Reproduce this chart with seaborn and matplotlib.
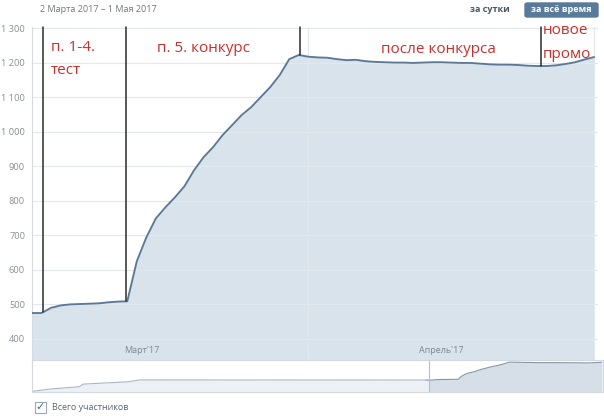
import numpy as np
import pandas as pd
import seaborn as sns
import matplotlib.pyplot as plt
import matplotlib.dates as mdates
from matplotlib.patches import Rectangle, FancyBboxPatch
from matplotlib.ticker import FuncFormatter

sns.set_style("white")
plt.rcParams["font.family"] = ["Open Sans", "DejaVu Sans"]

start = pd.Timestamp("2017-03-03")

# daily total members, 3 Mar - 1 May 2017
members = [475, 475, 490, 497, 500, 501, 502, 503, 506, 508,
           509, 625, 694, 749, 781, 810, 842, 888, 926, 955,
           990, 1019, 1048, 1071, 1100, 1129, 1164, 1210, 1222, 1217,
           1215, 1214, 1210, 1207, 1208, 1204, 1202, 1201, 1200, 1200,
           1199, 1200, 1201, 1201, 1200, 1199, 1199, 1197, 1195, 1194,
           1194, 1193, 1191, 1190, 1190, 1192, 1196, 1201, 1209, 1216]

# older history shown only in the navigator (days before 3 Mar)
hist_days = [-135.3, -129.2, -119.3, -118.0, -102.7, -98.8, -1.0]
hist_values = [10, 106, 201, 309, 405, 482, 478]

# hand-drawn markers (days after 3 Mar)
mark_days = [1.15, 9.86, 28.1, 53.4]

month_names = ["Март'17", "Апрель'17"]
month_label_days = [11.5, 43.0]
month_edges = ["2017-04-01", "2017-05-01"]

yticks = [400, 500, 600, 700, 800, 900, 1000, 1100, 1200, 1300]

line_c = "#5b7994"
fill_c = "#d9e3eb"
grid_c = "#e3e8ed"
red = "#c9302c"
tick_c = "#8a8f96"

day_idx = np.arange(len(members))
main = pd.DataFrame({"date": start + pd.to_timedelta(day_idx, unit="D"), "members": members})
hist = pd.DataFrame({"date": start + pd.to_timedelta(hist_days, unit="D"), "members": hist_values})
full = pd.concat([hist, main], ignore_index=True)

W, H = 604, 416
fig = plt.figure(figsize=(W / 100, H / 100), dpi=100)


def box(x0, y0, x1, y1):
    return [x0 / W, 1 - y1 / H, (x1 - x0) / W, (y1 - y0) / H]


ax = fig.add_axes(box(32, 27, 598, 360))
y_lo, y_hi = 339, 1303
x_lo = mdates.date2num(start)
x_hi = mdates.date2num(start + pd.Timedelta(days=59.4))
xnum = mdates.date2num(main["date"])

ax.fill_between(xnum, y_lo, main["members"], color=fill_c, lw=0, zorder=1)
sns.lineplot(data=main, x="date", y="members", ax=ax, color=line_c, lw=1.35, zorder=3)
ax.set_xlim(x_lo, x_hi)
ax.set_ylim(y_lo, y_hi)
ax.set_yticks(yticks)
ax.yaxis.set_major_formatter(FuncFormatter(lambda v, p: f"{int(v):,}".replace(",", " ")))
ax.tick_params(axis="y", length=0, pad=5, labelsize=6.7, labelcolor=tick_c)
ax.set_xticks([])
ax.set_xlabel("")
ax.set_ylabel("")
for yt in yticks:
    ax.axhline(yt, color=grid_c, lw=0.8, zorder=2)
for me in month_edges:
    ax.axvline(mdates.date2num(pd.Timestamp(me)), color=grid_c, lw=0.8, zorder=2)
for s in ["top", "right", "bottom"]:
    ax.spines[s].set_visible(False)
ax.spines["left"].set_color("#d5dbe1")
ax.spines["left"].set_linewidth(0.8)

for name, d in zip(month_names, month_label_days):
    ax.text(mdates.date2num(start + pd.Timedelta(days=d)), 0.03, name,
            transform=ax.get_xaxis_transform(), ha="center", va="center",
            fontsize=6.5, color="#7b8794")

# marker lines down to the curve
mark_vals = np.interp(mark_days, day_idx, members)
for d, v in zip(mark_days, mark_vals):
    xd = mdates.date2num(start + pd.Timedelta(days=d))
    ax.plot([xd, xd], [v, y_hi], color="#2b2b2b", lw=1.1, zorder=4, clip_on=False)

notes = [("п. 1-4.", 2.0, 1243), ("тест", 2.0, 1177),
         ("п. 5. конкурс", 13.1, 1241), ("после конкурса", 36.6, 1238),
         ("новое", 53.6, 1293), ("промо", 53.6, 1223)]
for txt, d, v in notes:
    ax.text(mdates.date2num(start + pd.Timedelta(days=d)), v, txt,
            ha="left", va="center", fontsize=11, color=red, zorder=5)

# navigator
nav = fig.add_axes(box(32, 360, 603, 392))
nx = mdates.date2num(full["date"])
sel = nx >= x_lo
nav.fill_between(nx, -19, full["members"], color="#edf1f5", lw=0)
nav.fill_between(nx, -19, full["members"], where=sel, color="#d6dfe7", lw=0)
sns.lineplot(data=full[~sel], x="date", y="members", ax=nav, color="#aab7c4", lw=0.8)
sns.lineplot(data=full[nx >= x_lo - 1], x="date", y="members", ax=nav, color="#8796a5", lw=0.8)
nav.axvline(x_lo, color="#b3bec8", lw=0.8)
nav.set_xlim(mdates.date2num(start - pd.Timedelta(days=135.5)), x_hi)
nav.set_ylim(-19, 1309)
nav.set_xticks([])
nav.set_yticks([])
nav.set_xlabel("")
nav.set_ylabel("")
for s in nav.spines.values():
    s.set_color("#d3d9df")
    s.set_linewidth(0.8)

# header
fig.text(40 / W, 1 - 10 / H, "2 Марта 2017 – 1 Мая 2017", fontsize=6.5,
         color="#6f7780", va="center", ha="left")
fig.text(490 / W, 1 - 10 / H, "за сутки", fontsize=6.5, color="#45566a",
         fontweight="bold", va="center", ha="center")
fig.patches.append(FancyBboxPatch((525 / W, 1 - 17 / H), 73 / W, 14 / H,
                                  boxstyle="round,pad=0,rounding_size=0.004",
                                  transform=fig.transFigure, color="#5a7a9a"))
fig.text(561.5 / W, 1 - 10 / H, "за всё время", fontsize=6.5, color="white",
         fontweight="bold", va="center", ha="center")

# legend checkbox
fig.patches.append(Rectangle((35 / W, 1 - 413 / H), 11 / W, 11 / H,
                             transform=fig.transFigure, facecolor="white",
                             edgecolor="#9aa7b4", lw=0.8))
fig.text(40.5 / W, 1 - 407 / H, "✓", fontsize=8, color="#3f6a94",
         ha="center", va="center", family="DejaVu Sans", fontweight="bold")
fig.text(52 / W, 1 - 407 / H, "Всего участников", fontsize=6.5,
         color="#5c6670", va="center", ha="left")

fig.savefig("out.png", dpi=100)
